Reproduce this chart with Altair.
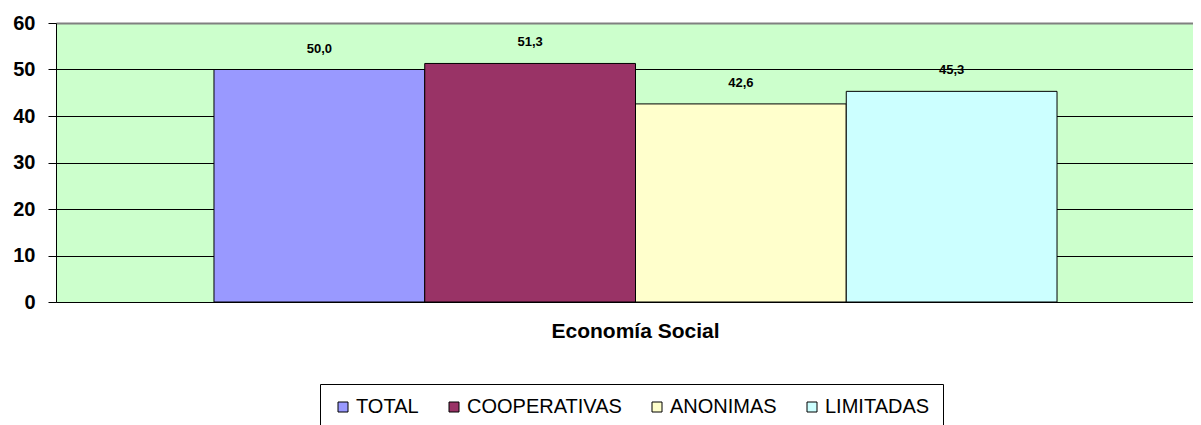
import altair as alt
import pandas as pd

categories = ["Economía Social"] * 4
series = ["TOTAL", "COOPERATIVAS", "ANONIMAS", "LIMITADAS"]
values = [50.0, 51.3, 42.6, 45.3]
colors = ["#9999FF", "#993366", "#FFFFCC", "#CCFFFF"]
y_ticks = [0, 10, 20, 30, 40, 50, 60]

df = pd.DataFrame({"cat": categories, "serie": series, "value": values})

FONT = "Liberation Sans"

x_enc = alt.X("cat:N", title=None,
              scale=alt.Scale(paddingInner=0, paddingOuter=0.1874),
              axis=alt.Axis(labelAngle=0, labelFont=FONT, labelFontSize=21,
                            labelFontWeight="bold", labelColor="black",
                            ticks=False, labelPadding=18, domainColor="black",
                            domainWidth=1, grid=False))
xoff_enc = alt.XOffset("serie:N", sort=series, scale=alt.Scale(paddingInner=0, paddingOuter=0))
y_enc = alt.Y("value:Q", title=None,
              scale=alt.Scale(domain=[0, 60], nice=False, zero=True),
              axis=alt.Axis(values=y_ticks, labelFont=FONT, labelFontSize=20,
                            labelFontWeight="bold", labelColor="black",
                            tickSize=8, tickColor="black", labelPadding=13,
                            domainColor="black", domainWidth=1, grid=True,
                            gridColor=alt.condition("datum.value == 60", alt.value("#808080"), alt.value("black")),
                            gridWidth=alt.condition("datum.value == 60", alt.value(2), alt.value(1))))

bars = alt.Chart(df).mark_bar(stroke="black", strokeWidth=1, opacity=1).encode(
    x=x_enc,
    xOffset=xoff_enc,
    y=y_enc,
    color=alt.Color("serie:N", sort=series,
                    scale=alt.Scale(domain=series, range=colors),
                    legend=alt.Legend(title=None, orient="none", legendX=264, legendY=361,
                                      direction="horizontal", symbolType="square",
                                      symbolSize=100, symbolStrokeColor="black",
                                      symbolStrokeWidth=1, labelFont=FONT, labelFontSize=20,
                                      labelColor="black", labelOffset=3, columnPadding=25,
                                      padding=13, strokeColor="black", fillColor="white")),
)

labels = alt.Chart(df).transform_calculate(
    label="replace(format(datum.value, '.1f'), '.', ',')"
).mark_text(font=FONT, fontSize=13, fontWeight="bold", color="black",
            baseline="middle", dy=-21).encode(
    x=alt.X("cat:N"),
    xOffset=alt.XOffset("serie:N", sort=series),
    y=alt.Y("value:Q"),
    text="label:N",
)

chart = alt.layer(bars, labels).properties(
    width=1159, height=279,
    autosize=alt.AutoSizeParams(type="none"),
    padding={"left": 48, "top": 15, "right": -22, "bottom": 123},
).configure(background="white").configure_view(stroke=None, fill="#CCFFCC")

chart.save("out.html", embed_options={"renderer": "svg", "actions": False})
